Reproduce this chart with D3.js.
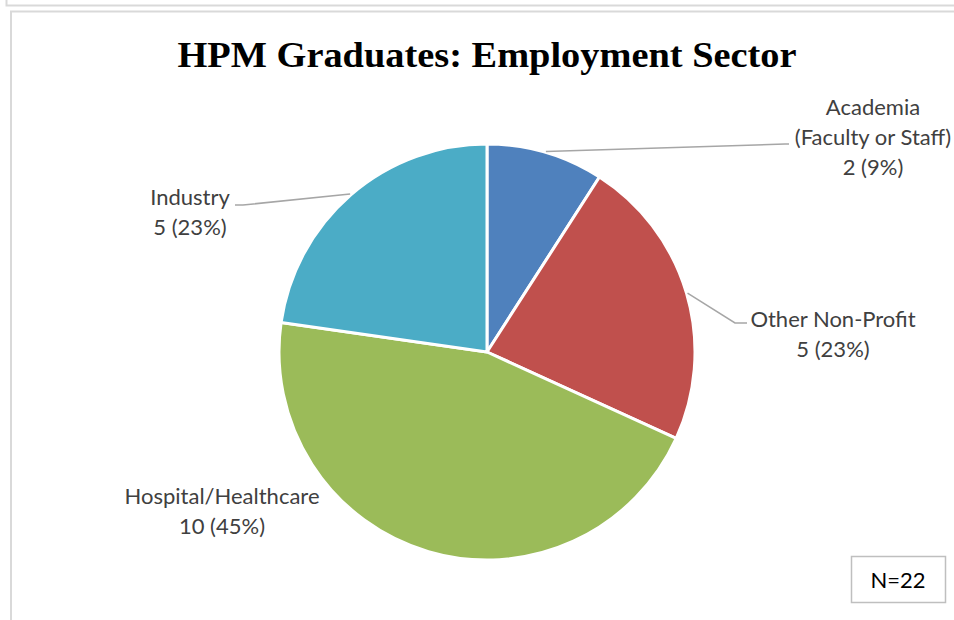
<!DOCTYPE html>
<html>
<head>
<meta charset="utf-8">
<script src="https://cdn.jsdelivr.net/npm/d3@7"></script>
<style>
  html, body { margin: 0; padding: 0; background: #fff; }
  svg { display: block; }
</style>
</head>
<body>
<svg id="chart" width="954" height="620"></svg>
<script>
// ---- data ----
const categories = ["Academia\n(Faculty or Staff)", "Other Non-Profit", "Hospital/Healthcare", "Industry"];
const counts = [2, 5, 10, 5];
const percents = ["9%", "23%", "45%", "23%"];
const colors = ["#4F81BD", "#C0504D", "#9BBB59", "#4BACC6"];
const titleText = "HPM Graduates: Employment Sector";
const noteText = "N=22";

// ---- layout ----
const W = 954, H = 620;
const cx = 487, cy = 352, R = 208;
const svg = d3.select("#chart");

// frames
svg.append("path").attr("d", "M6.5,0 V5.5 H954").attr("fill", "none").attr("stroke", "#d9d9d9").attr("stroke-width", 2);
svg.append("path").attr("d", "M11,620 V11.5 H954").attr("fill", "none").attr("stroke", "#d9d9d9").attr("stroke-width", 2);

// title
const title = svg.append("text")
  .attr("x", cx).attr("y", 67)
  .attr("text-anchor", "middle")
  .attr("font-family", "'Liberation Serif', 'DejaVu Serif', serif")
  .attr("font-weight", "bold")
  .attr("font-size", 36)
  .attr("fill", "#000")
  .text(titleText);
const tw = title.node().getComputedTextLength();
const targetTW = 619;
if (Math.abs(tw - targetTW) > 4) {
  title.attr("textLength", targetTW).attr("lengthAdjust", "spacingAndGlyphs");
}

// pie
const pie = d3.pie().value(d => d).sort(null).startAngle(0).endAngle(2 * Math.PI);
const arcs = pie(counts);
const arc = d3.arc().innerRadius(0).outerRadius(R);
const g = svg.append("g").attr("transform", `translate(${cx},${cy})`);
g.selectAll("path.slice").data(arcs).enter().append("path")
  .attr("class", "slice")
  .attr("d", arc)
  .attr("fill", (d, i) => colors[i])
  .attr("stroke", "#fff")
  .attr("stroke-width", 3)
  .attr("stroke-linejoin", "round");

// leader lines start at slice mid-angle on the rim
const rimArc = d3.arc().innerRadius(R + 1).outerRadius(R + 1);
// label layout: text anchor point (center x, first baseline) and leader path end points (absolute)
const labelLayout = [
  { x: 873, y: 115, leader: [[785, 144], [789, 144]] },
  { x: 833, y: 327, leader: [[735, 323], [747, 323]] },
  { x: 222, y: 504, leader: null },
  { x: 190, y: 205, leader: [[243, 205], [235, 205]] }
];
const lineH = 30;
const labelFont = "Lato, 'Noto Sans', 'Liberation Sans', sans-serif";

arcs.forEach((a, i) => {
  const L = labelLayout[i];
  if (L.leader) {
    const c = rimArc.centroid(a);
    const pts = [[cx + c[0], cy + c[1]], ...L.leader];
    svg.append("path")
      .attr("d", d3.line()(pts))
      .attr("fill", "none")
      .attr("stroke", "#a6a6a6")
      .attr("stroke-width", 1.5);
  }
  const lines = categories[i].split("\n").concat([`${counts[i]} (${percents[i]})`]);
  const t = svg.append("text")
    .attr("text-anchor", "middle")
    .attr("font-family", labelFont)
    .attr("font-size", 22)
    .attr("fill", "#404040");
  lines.forEach((ln, k) => {
    t.append("tspan").attr("x", L.x).attr("y", L.y + k * lineH).text(ln);
  });
});

// N box
svg.append("rect")
  .attr("x", 851.5).attr("y", 556.5).attr("width", 94).attr("height", 46)
  .attr("fill", "#fff").attr("stroke", "#bfbfbf").attr("stroke-width", 1.5);
svg.append("text")
  .attr("x", 898).attr("y", 588)
  .attr("text-anchor", "middle")
  .attr("font-family", labelFont)
  .attr("font-size", 22)
  .attr("fill", "#000")
  .text(noteText);
</script>
</body>
</html>
